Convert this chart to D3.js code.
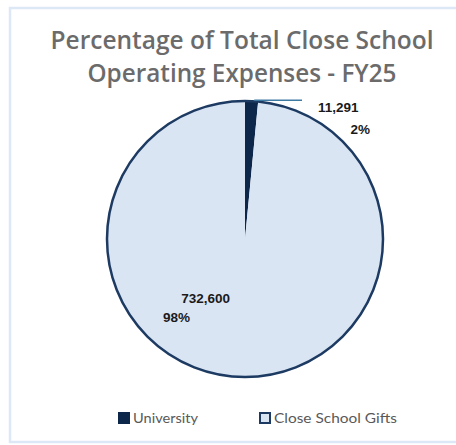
<!DOCTYPE html>
<html>
<head>
<meta charset="utf-8">
<script src="https://cdn.jsdelivr.net/npm/d3@7"></script>
<style>
  html, body { margin: 0; padding: 0; background: #ffffff; }
  svg { display: block; }
</style>
</head>
<body>
<svg id="chart" width="456" height="445"></svg>
<script>
const categories = ["University", "Close School Gifts"];
const values = [11291, 732600];
const valueLabels = ["11,291", "732,600"];
const percentLabels = ["2%", "98%"];
const titleLines = ["Percentage of Total Close School", "Operating Expenses - FY25"];

const colors = ["#0c2749", "#dae5f4"];
const strokeColor = "#1d3b62";

const svg = d3.select("#chart");

// frame (top, left, bottom edges visible; right edge runs off the picture)
const frame = svg.append("g").attr("stroke", "#dde8f6").attr("stroke-width", 2.5).attr("fill", "none");
frame.append("path").attr("d", "M456,8 H10 V442 H456");

// title
const titleWidths = [383, 309];
const titleY = [49, 82];
titleLines.forEach((t, i) => {
  svg.append("text")
    .attr("x", 242).attr("y", titleY[i])
    .attr("text-anchor", "middle")
    .attr("font-family", "'Open Sans', sans-serif")
    .attr("font-weight", 600)
    .attr("font-size", 25)
    .attr("fill", "#6b6b6b")
    .attr("textLength", titleWidths[i])
    .attr("lengthAdjust", "spacingAndGlyphs")
    .text(t);
});

// pie
const cx = 245, cy = 239, r = 138;
const pie = d3.pie().sort(null).value(d => d)(values);
const arc = d3.arc().innerRadius(0).outerRadius(r);
const g = svg.append("g").attr("transform", `translate(${cx},${cy})`);

g.selectAll("path.slice")
  .data(pie)
  .enter().append("path")
  .attr("class", "slice")
  .attr("d", arc)
  .attr("fill", (d, i) => colors[i])
  .attr("stroke", "none");

// outer rim stroke
g.append("circle").attr("r", r).attr("fill", "none")
  .attr("stroke", strokeColor).attr("stroke-width", 2.5);

// leader line for small slice
const a0 = pie[0].startAngle + (pie[0].endAngle - pie[0].startAngle) * 0.7;
const lx = r * Math.sin(a0), ly = -r * Math.cos(a0);
g.append("line")
  .attr("x1", lx).attr("y1", ly - 1)
  .attr("x2", 302 - cx).attr("y2", ly - 1)
  .attr("stroke", "#3f7aa3").attr("stroke-width", 1.5);

// data labels
const labelFont = "'Liberation Sans', Arial, sans-serif";
const labelPos = [
  { vx: 318, vy: 112, vAnchor: "start", px: 370, py: 134, pAnchor: "end" },
  { vx: 230, vy: 303, vAnchor: "end", px: 163, py: 322, pAnchor: "start" }
];
labelPos.forEach((p, i) => {
  svg.append("text")
    .attr("x", p.vx).attr("y", p.vy).attr("text-anchor", p.vAnchor)
    .attr("font-family", labelFont).attr("font-weight", 700).attr("font-size", 13.5)
    .attr("fill", "#1a1a1a").text(valueLabels[i]);
  svg.append("text")
    .attr("x", p.px).attr("y", p.py).attr("text-anchor", p.pAnchor)
    .attr("font-family", labelFont).attr("font-weight", 700).attr("font-size", 13.5)
    .attr("fill", "#1a1a1a").text(percentLabels[i]);
});

// legend
const legendX = [118, 259];
const legendTextW = [65, 123];
categories.forEach((c, i) => {
  const lg = svg.append("g");
  lg.append("rect")
    .attr("x", legendX[i] + (i === 1 ? 1 : 0)).attr("y", 412 + (i === 1 ? 1 : 0))
    .attr("width", i === 1 ? 10 : 12).attr("height", i === 1 ? 10 : 12)
    .attr("fill", colors[i])
    .attr("stroke", i === 1 ? strokeColor : "none")
    .attr("stroke-width", i === 1 ? 2 : 0);
  lg.append("text")
    .attr("x", legendX[i] + 15).attr("y", 423)
    .attr("font-family", "Lato, sans-serif")
    .attr("font-size", 14)
    .attr("fill", "#595959")
    .attr("textLength", legendTextW[i])
    .attr("lengthAdjust", "spacingAndGlyphs")
    .text(c);
});
</script>
</body>
</html>
